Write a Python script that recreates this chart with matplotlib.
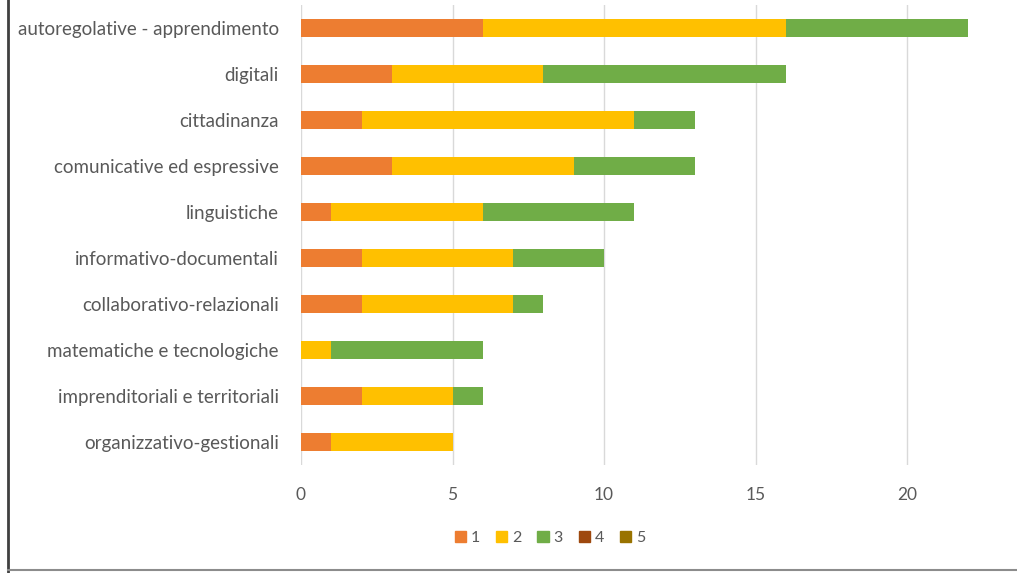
import matplotlib
matplotlib.use("Agg")
import matplotlib.pyplot as plt
from matplotlib.lines import Line2D
import numpy as np

categories = [
    "autoregolative - apprendimento",
    "digitali",
    "cittadinanza",
    "comunicative ed espressive",
    "linguistiche",
    "informativo-documentali",
    "collaborativo-relazionali",
    "matematiche e tecnologiche",
    "imprenditoriali e territoriali",
    "organizzativo-gestionali",
]
series_names = ["1", "2", "3", "4", "5"]
s1 = [6, 3, 2, 3, 1, 2, 2, 0, 2, 1]
s2 = [10, 5, 9, 6, 5, 5, 5, 1, 3, 4]
s3 = [6, 8, 2, 4, 5, 3, 1, 5, 1, 0]
s4 = [0, 0, 0, 0, 0, 0, 0, 0, 0, 0]
s5 = [0, 0, 0, 0, 0, 0, 0, 0, 0, 0]
x_ticks = [0, 5, 10, 15, 20]

colors = ["#ED7D31", "#FFC000", "#70AD47", "#9E480E", "#997300"]
text_color = "#595959"

plt.rcParams["font.family"] = ["Lato", "DejaVu Sans"]

W, H = 1017, 573
fig = plt.figure(figsize=(W / 100, H / 100), dpi=100)
ax = fig.add_axes([301 / W, 1 - 465 / H, (W - 301) / W, 460 / H])

y = np.arange(len(categories))
left = np.zeros(len(categories))
handles = []
for name, vals, c in zip(series_names, [s1, s2, s3, s4, s5], colors):
    vals = np.array(vals, dtype=float)
    ax.barh(y, vals, left=left, height=0.40, color=c, zorder=3)
    left += vals
    handles.append(plt.Rectangle((0, 0), 1, 1, color=c))

ax.set_ylim(len(categories) - 0.5, -0.5)
ax.set_xlim(0, (W - 301) / 30.3)
ax.set_xticks(x_ticks)
ax.set_xticklabels([str(t) for t in x_ticks])
ax.set_yticks(y)
ax.set_yticklabels(categories)
ax.tick_params(axis="both", length=0, colors=text_color)
ax.tick_params(axis="y", pad=16, labelsize=13.5)
ax.tick_params(axis="x", pad=16, labelsize=12.5)
ax.grid(axis="x", color="#D9D9D9", linewidth=1, zorder=0)
for s in ax.spines.values():
    s.set_visible(False)

leg = fig.legend(handles, series_names, loc="center", bbox_to_anchor=(550 / W, 1 - 538 / H),
                 ncol=5, frameon=False, handlelength=0.7, handleheight=0.7,
                 handletextpad=0.3, columnspacing=1.0, fontsize=11.5)
for t in leg.get_texts():
    t.set_color(text_color)

# outer frame lines
fig.add_artist(Line2D([8 / W, 8 / W], [0, 1], transform=fig.transFigure, color="#404040", linewidth=2))
fig.add_artist(Line2D([8 / W, 1], [3 / H, 3 / H], transform=fig.transFigure, color="#8C8C8C", linewidth=1.5))

fig.savefig("out.png", dpi=100)
